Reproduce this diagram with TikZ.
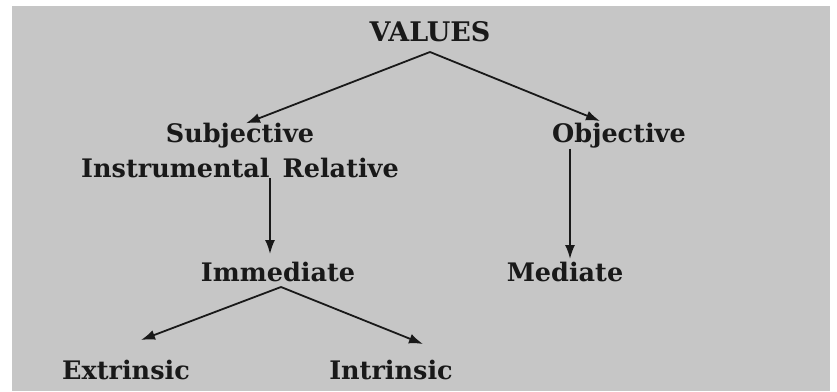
\documentclass[tikz,border=0pt]{standalone}
\usepackage{fontspec}
\setmainfont{DejaVu Serif}
\usetikzlibrary{arrows.meta}
\begin{document}
\begin{tikzpicture}[x=1pt,y=-1pt,
  lbl/.style={font=\bfseries\fontsize{25.5}{28}\selectfont, inner sep=0pt, text=black!90, align=center},
  conn/.style={line width=1.8pt, draw=black!90, -{Latex[length=14pt,width=10pt]}}]
\useasboundingbox (0,0) rectangle (837,391);
\fill[white] (0,0) rectangle (837,391);
\fill[gray!45] (12,6) rectangle (830,391);
\node[lbl, font=\bfseries\fontsize{27}{30}\selectfont] (values) at (430,32) {VALUES};
\node[lbl] (subj) at (240,136) {Subjective};
\node[lbl] (instr) at (240,168) {Instrumental\, Relative};
\node[lbl] (obj) at (619,136) {Objective};
\node[lbl] (imm) at (278,272) {Immediate};
\node[lbl] (med) at (565,272) {Mediate};
\node[lbl] (ext) at (126,370) {Extrinsic};
\node[lbl] (intr) at (391,370) {Intrinsic};
\coordinate (vtop) at (430,52);
\coordinate (itop) at (281,287);
\draw[conn] (vtop) -- (subj.north -| 246,0) ;
\draw[conn] (vtop) -- (600,121);
\draw[conn] (instr.south -| 270,0) -- (270,254);
\draw[conn] (obj.south -| 570,0) -- (570,259);
\draw[conn] (itop) -- (141,340);
\draw[conn] (itop) -- (423,344);
\end{tikzpicture}
\end{document}
